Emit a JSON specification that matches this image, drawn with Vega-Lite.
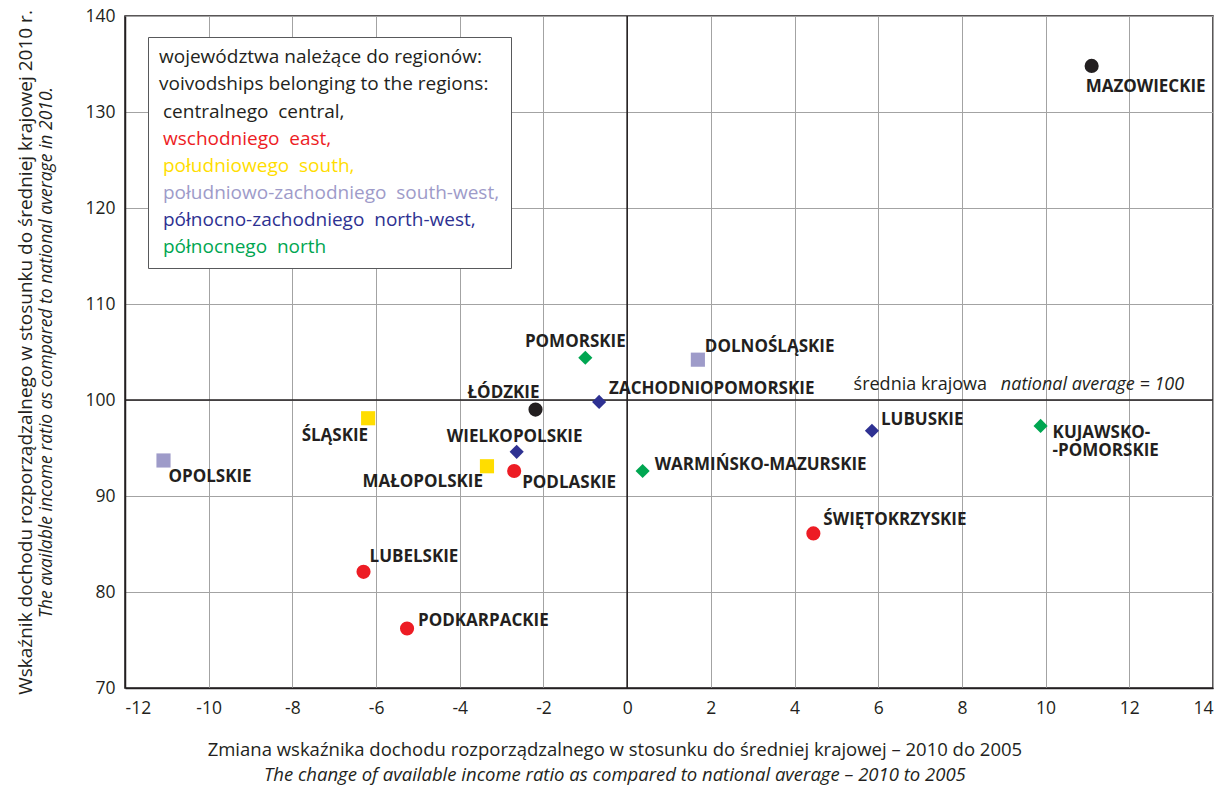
{
  "$schema": "https://vega.github.io/schema/vega-lite/v6.json",
  "width": 1088,
  "height": 672,
  "autosize": "none",
  "padding": {"left": 125, "top": 16, "right": 14, "bottom": 97},
  "background": "white",
  "config": {
    "font": "Open Sans",
    "view": {"stroke": "#231f20", "strokeWidth": 1.5},
    "axis": {
      "labelFont": "Open Sans", "labelFontSize": 17.5, "labelColor": "#231f20",
      "ticks": false, "tickSize": 0,
      "domainColor": "#231f20", "domainWidth": 1.5,
      "gridColor": "#a3a3a3", "gridWidth": 1,
      "titleFont": "Open Sans", "titleFontSize": 19, "titleFontWeight": "normal", "titleColor": "#231f20",
      "labelExpr": "replace(datum.label, '−', '-')"
    },
    "axisX": {"labelPadding": 11},
    "axisY": {"labelPadding": 10}
  },
  "title": {
    "text": "Zmiana wskaźnika dochodu rozporządzalnego w stosunku do średniej krajowej – 2010 do 2005",
    "subtitle": "The change of available income ratio as compared to national average – 2010 to 2005",
    "orient": "bottom", "anchor": "middle", "frame": "bounds",
    "font": "Open Sans", "fontSize": 18.5, "fontWeight": "normal", "color": "#231f20",
    "subtitleFont": "Open Sans", "subtitleFontSize": 18.5, "subtitleFontStyle": "italic", "subtitleColor": "#231f20",
    "offset": 24, "subtitlePadding": 7
  },
  "resolve": {"scale": {"y": "independent"}, "axis": {"y": "independent"}},
  "layer": [
    {
      "data": {"values": [{}]},
      "mark": {"type": "rule", "color": "#231f20", "strokeWidth": 1.6},
      "encoding": {"x": {"datum": 0, "type": "quantitative", "scale": {"domain": [-12, 14], "nice": false}}}
    },
    {
      "data": {"values": [{}]},
      "mark": {"type": "rule", "color": "#231f20", "strokeWidth": 1.6},
      "encoding": {
        "y": {
          "datum": 100, "type": "quantitative",
          "scale": {"domain": [70, 140], "nice": false},
          "axis": {
            "orient": "left", "title": "Wskaźnik dochodu rozporządzalnego w stosunku do średniej krajowej  2010 r.",
            "labels": false, "ticks": false, "domain": false, "grid": false, "titlePadding": 90
          }
        }
      }
    },
    {
      "data": {
        "values": [
          {"name": "MAZOWIECKIE", "region": "central", "x": 11.1, "y": 134.8},
          {"name": "POMORSKIE", "region": "north", "x": -1.0, "y": 104.4},
          {"name": "DOLNOŚLĄSKIE", "region": "south-west", "x": 1.69, "y": 104.2},
          {"name": "ŁÓDZKIE", "region": "central", "x": -2.19, "y": 99.0},
          {"name": "ZACHODNIOPOMORSKIE", "region": "north-west", "x": -0.67, "y": 99.8},
          {"name": "WIELKOPOLSKIE", "region": "north-west", "x": -2.64, "y": 94.6},
          {"name": "MAŁOPOLSKIE", "region": "south", "x": -3.35, "y": 93.1},
          {"name": "PODLASKIE", "region": "east", "x": -2.7, "y": 92.6},
          {"name": "WARMIŃSKO-MAZURSKIE", "region": "north", "x": 0.37, "y": 92.6},
          {"name": "ŚLĄSKIE", "region": "south", "x": -6.19, "y": 98.1},
          {"name": "OPOLSKIE", "region": "south-west", "x": -11.08, "y": 93.7},
          {"name": "LUBUSKIE", "region": "north-west", "x": 5.85, "y": 96.8},
          {"name": "KUJAWSKO-POMORSKIE", "region": "north", "x": 9.88, "y": 97.3},
          {"name": "ŚWIĘTOKRZYSKIE", "region": "east", "x": 4.45, "y": 86.1},
          {"name": "LUBELSKIE", "region": "east", "x": -6.3, "y": 82.1},
          {"name": "PODKARPACKIE", "region": "east", "x": -5.26, "y": 76.2}
        ]
      },
      "layer": [
        {
          "mark": {"type": "point", "filled": true, "opacity": 1, "strokeWidth": 0},
          "encoding": {
            "x": {"field": "x", "type": "quantitative", "scale": {"domain": [-12, 14], "nice": false},
                  "axis": {"title": null, "values": [-12, -10, -8, -6, -4, -2, 0, 2, 4, 6, 8, 10, 12, 14], "grid": true}},
            "y": {"field": "y", "type": "quantitative", "scale": {"domain": [70, 140], "nice": false},
                  "axis": {"orient": "left", "title": "The available income ratio as compared to national average in 2010.", "titleFontStyle": "italic",
                           "titleFontSize": 17.5, "titlePadding": 29, "values": [70, 80, 90, 100, 110, 120, 130, 140], "grid": true}},
            "color": {
              "field": "region", "type": "nominal",
              "scale": {"domain": ["central", "east", "south", "south-west", "north-west", "north"],
                        "range": ["#231f20", "#ed1c24", "#ffdd00", "#9e9bc9", "#2e3192", "#00a651"]},
              "legend": {
                "orient": "none", "legendX": 23, "legendY": 21, "direction": "vertical",
                "title": ["województwa należące do regionów:", "voivodships belonging to the regions:"],
                "titleFont": "Open Sans", "titleFontSize": 19, "titleFontWeight": "normal", "titleColor": "#231f20",
                "titleLineHeight": 27, "titlePadding": 8, "titleLimit": 0,
                "labelFont": "Open Sans", "labelFontSize": 19, "labelLimit": 0,
                "labelExpr": "{'central':'centralnego\u00a0 central,','east':'wschodniego\u00a0 east,','south':'południowego\u00a0 south,','south-west':'południowo-zachodniego\u00a0 south-west,','north-west':'północno-zachodniego\u00a0 north-west,','north':'północnego\u00a0 north'}[datum.label]",
                "symbolOpacity": 0, "symbolSize": 1, "symbolStrokeWidth": 0, "labelOffset": -15, "rowPadding": 7,
                "padding": 11, "strokeColor": "#58595b", "fillColor": "white",
                "encode": {"labels": {"update": {"fill": {"signal": "scale('color', datum.value)"}}}}
              }
            },
            "shape": {
              "field": "region", "type": "nominal",
              "scale": {"domain": ["central", "east", "south", "south-west", "north-west", "north"],
                        "range": ["circle", "circle", "square", "square", "diamond", "diamond"]},
              "legend": null
            },
            "size": {
              "field": "region", "type": "ordinal",
              "scale": {"domain": ["central", "east", "south", "south-west", "north-west", "north"],
                        "range": [200, 200, 144, 144, 180, 180]},
              "legend": null
            }
          }
        },
        {
          "encoding": {
            "x": {"field": "x", "type": "quantitative"},
            "y": {"field": "y", "type": "quantitative"},
            "text": {"field": "name"}
          },
          "layer": [
            {"transform": [{"filter": {"field": "name", "equal": "MAZOWIECKIE"}}],
             "mark": {"type": "text", "align": "left", "baseline": "middle", "dx": -6, "dy": 21, "font": "Open Sans", "fontWeight": "bold", "fontSize": 17, "color": "#231f20"}},
            {"transform": [{"filter": {"field": "name", "equal": "POMORSKIE"}}],
             "mark": {"type": "text", "align": "center", "baseline": "middle", "dx": -10, "dy": -16, "font": "Open Sans", "fontWeight": "bold", "fontSize": 17, "color": "#231f20"}},
            {"transform": [{"filter": {"field": "name", "equal": "DOLNOŚLĄSKIE"}}],
             "mark": {"type": "text", "align": "left", "baseline": "middle", "dx": 7, "dy": -13, "font": "Open Sans", "fontWeight": "bold", "fontSize": 17, "color": "#231f20"}},
            {"transform": [{"filter": {"field": "name", "equal": "ŁÓDZKIE"}}],
             "mark": {"type": "text", "align": "right", "baseline": "middle", "dx": 4, "dy": -17, "font": "Open Sans", "fontWeight": "bold", "fontSize": 17, "color": "#231f20"}},
            {"transform": [{"filter": {"field": "name", "equal": "ZACHODNIOPOMORSKIE"}}],
             "mark": {"type": "text", "align": "left", "baseline": "middle", "dx": 10, "dy": -13, "font": "Open Sans", "fontWeight": "bold", "fontSize": 17, "color": "#231f20"}},
            {"transform": [{"filter": {"field": "name", "equal": "WIELKOPOLSKIE"}}],
             "mark": {"type": "text", "align": "center", "baseline": "middle", "dx": -2, "dy": -15, "font": "Open Sans", "fontWeight": "bold", "fontSize": 17, "color": "#231f20"}},
            {"transform": [{"filter": {"field": "name", "equal": "MAŁOPOLSKIE"}}],
             "mark": {"type": "text", "align": "right", "baseline": "middle", "dx": -4, "dy": 16, "font": "Open Sans", "fontWeight": "bold", "fontSize": 17, "color": "#231f20"}},
            {"transform": [{"filter": {"field": "name", "equal": "PODLASKIE"}}],
             "mark": {"type": "text", "align": "left", "baseline": "middle", "dx": 8, "dy": 12, "font": "Open Sans", "fontWeight": "bold", "fontSize": 17, "color": "#231f20"}},
            {"transform": [{"filter": {"field": "name", "equal": "WARMIŃSKO-MAZURSKIE"}}],
             "mark": {"type": "text", "align": "left", "baseline": "middle", "dx": 12, "dy": -6, "font": "Open Sans", "fontWeight": "bold", "fontSize": 17, "color": "#231f20"}},
            {"transform": [{"filter": {"field": "name", "equal": "ŚLĄSKIE"}}],
             "mark": {"type": "text", "align": "right", "baseline": "middle", "dx": 0, "dy": 18, "font": "Open Sans", "fontWeight": "bold", "fontSize": 17, "color": "#231f20"}},
            {"transform": [{"filter": {"field": "name", "equal": "OPOLSKIE"}}],
             "mark": {"type": "text", "align": "left", "baseline": "middle", "dx": 5, "dy": 17, "font": "Open Sans", "fontWeight": "bold", "fontSize": 17, "color": "#231f20"}},
            {"transform": [{"filter": {"field": "name", "equal": "LUBUSKIE"}}],
             "mark": {"type": "text", "align": "left", "baseline": "middle", "dx": 9, "dy": -11, "font": "Open Sans", "fontWeight": "bold", "fontSize": 17, "color": "#231f20"}},
            {"transform": [{"filter": {"field": "name", "equal": "KUJAWSKO-POMORSKIE"}}],
             "mark": {"type": "text", "align": "left", "baseline": "middle", "dx": 12, "dy": 7, "lineHeight": 18.5, "font": "Open Sans", "fontWeight": "bold", "fontSize": 17, "color": "#231f20"},
             "encoding": {"text": {"value": ["KUJAWSKO-", "-POMORSKIE"]}}},
            {"transform": [{"filter": {"field": "name", "equal": "ŚWIĘTOKRZYSKIE"}}],
             "mark": {"type": "text", "align": "left", "baseline": "middle", "dx": 10, "dy": -13, "font": "Open Sans", "fontWeight": "bold", "fontSize": 17, "color": "#231f20"}},
            {"transform": [{"filter": {"field": "name", "equal": "LUBELSKIE"}}],
             "mark": {"type": "text", "align": "left", "baseline": "middle", "dx": 6, "dy": -15, "font": "Open Sans", "fontWeight": "bold", "fontSize": 17, "color": "#231f20"}},
            {"transform": [{"filter": {"field": "name", "equal": "PODKARPACKIE"}}],
             "mark": {"type": "text", "align": "left", "baseline": "middle", "dx": 11, "dy": -7, "font": "Open Sans", "fontWeight": "bold", "fontSize": 17, "color": "#231f20"}}
          ]
        },
        {
          "data": {"values": [{}]},
          "mark": {"type": "text", "align": "right", "baseline": "middle", "dy": -15, "font": "Open Sans", "fontSize": 18, "color": "#231f20"},
          "encoding": {
            "x": {"datum": 8.6, "type": "quantitative"},
            "y": {"datum": 100, "type": "quantitative"},
            "text": {"value": "średnia krajowa"}
          }
        },
        {
          "data": {"values": [{}]},
          "mark": {"type": "text", "align": "left", "baseline": "middle", "dy": -15, "font": "Open Sans", "fontSize": 18, "fontStyle": "italic", "color": "#231f20"},
          "encoding": {
            "x": {"datum": 8.93, "type": "quantitative"},
            "y": {"datum": 100, "type": "quantitative"},
            "text": {"value": "national average = 100"}
          }
        }
      ]
    }
  ]
}
